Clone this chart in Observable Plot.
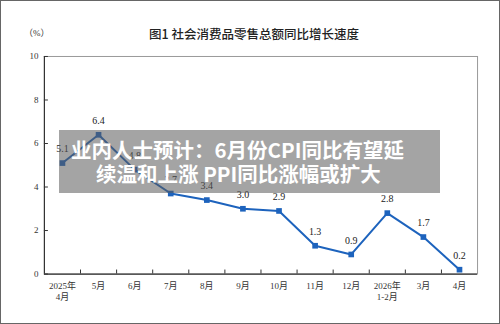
<!DOCTYPE html>
<html><head><meta charset="utf-8">
<script src="https://cdn.jsdelivr.net/npm/d3@7"></script>
<script src="https://cdn.jsdelivr.net/npm/@observablehq/plot@0.6"></script>
<style>
html,body{margin:0;padding:0;background:#fff;}
#wrap{position:relative;width:500px;height:324px;box-sizing:border-box;border:1px solid #666;overflow:hidden;font-family:"Liberation Serif","Noto Sans CJK SC",serif;}
#head{position:relative;height:44px;}
#title{position:absolute;left:8px;right:0;top:23px;text-align:center;font-family:"Noto Sans CJK SC",sans-serif;font-size:12.5px;font-weight:500;color:#222;}
#unit{position:absolute;left:23px;top:25px;font-size:9px;color:#333;}
#chart{position:absolute;left:-1px;top:44px;}
#overlay{position:absolute;left:58px;top:129px;width:381px;height:63px;background:rgba(90,90,90,0.55);color:#fff;font-family:"Noto Sans CJK SC",sans-serif;font-weight:700;font-size:20.5px;line-height:24px;box-sizing:border-box;padding-top:7px;white-space:nowrap;}
#overlay span{display:block;}
#l1{padding-left:12px;}
#l2{padding-left:37px;}
</style></head>
<body>
<div id="wrap">
  <div id="head"><div id="unit">（%）</div><div id="title">图1 社会消费品零售总额同比增长速度</div></div>
  <div id="chart"></div>
  <div id="overlay"><span id="l1">业内人士预计：6月份CPI同比有望延</span><span id="l2">续温和上涨 PPI同比涨幅或扩大</span></div>
</div>
<script>
const months = ["2025年\n4月","5月","6月","7月","8月","9月","10月","11月","12月","2026年\n1-2月","3月","4月"];
const values = [5.1, 6.4, 4.8, 3.7, 3.4, 3.0, 2.9, 1.3, 0.9, 2.8, 1.7, 0.2];
const yTicks = [0, 2, 4, 6, 8, 10];

const data = months.map((m, i) => ({i, m, v: values[i]}));
const bounds = d3.range(months.length - 1).map(i => i + 0.5);
const blue = "#1d63bd";
const font = "Liberation Serif, Noto Sans CJK SC, serif";

const plot = Plot.plot({
  width: 500, height: 279,
  marginTop: 11, marginBottom: 50, marginLeft: 44, marginRight: 22,
  style: {fontFamily: font, fontSize: "9px", color: "#333", background: "transparent"},
  x: {domain: [-0.5, months.length - 0.5], axis: null, label: null},
  y: {domain: [0, 10], axis: null, label: null},
  marks: [
    Plot.frame({stroke: "#999", strokeWidth: 1}),
    Plot.ruleY([0], {stroke: "#333", strokeWidth: 1.2}),
    Plot.ruleX([-0.5], {stroke: "#333", strokeWidth: 1.2}),
    Plot.axisY({ticks: yTicks, tickSize: 0, tickPadding: 6, tickFormat: d => d, fontSize: 9, fill: "#333", label: null}),
    Plot.axisY({ticks: yTicks, tickSize: 4, dx: 4, tickFormat: () => "", stroke: "#333", label: null}),
    Plot.axisX({ticks: bounds, tickSize: 4, dy: -4, tickFormat: () => "", stroke: "#333", label: null}),
    Plot.axisX({ticks: data.map(d => d.i), tickSize: 0, tickPadding: 7, tickFormat: i => months[i], fontSize: 9, fill: "#333", lineHeight: 1.25, label: null}),
    Plot.line(data, {x: "i", y: "v", stroke: blue, strokeWidth: 2}),
    Plot.dot(data, {x: "i", y: "v", symbol: "square", r: 3.2, fill: blue, stroke: "none"}),
    Plot.text(data, {x: "i", y: "v", text: d => d.v.toFixed(1), dy: -14, fontSize: 10, fill: "#222"})
  ]
});
document.getElementById("chart").appendChild(plot);
</script>
</body></html>
